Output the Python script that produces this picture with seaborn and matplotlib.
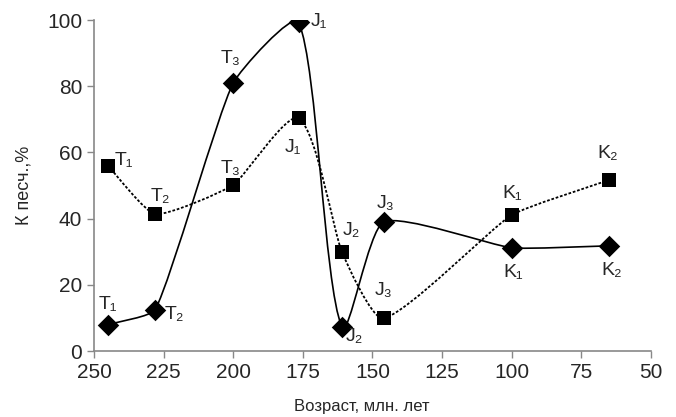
import numpy as np
import pandas as pd
import seaborn as sns
import matplotlib.pyplot as plt
from matplotlib.path import Path
from matplotlib.patches import PathPatch

# data
age = [245, 228, 200, 176.5, 161, 146, 100, 65]
period = ['T₁', 'T₂', 'T₃', 'J₁', 'J₂', 'J₃', 'K₁', 'K₂']
k_diamond = [8, 12.5, 81, 99.3, 7.3, 39, 31.2, 31.8]
k_square = [56, 41.4, 50.2, 70.3, 30, 9.9, 41.1, 51.7]

sns.set_style("ticks")
plt.rcParams['font.family'] = ['Liberation Sans Narrow', 'Liberation Sans', 'DejaVu Sans']

df = pd.DataFrame({'age': age, 'period': period, 'dia': k_diamond, 'sq': k_square})

fig = plt.figure(figsize=(6.76, 4.17), dpi=100)
ax = fig.add_axes([0.139, 0.158, 0.824, 0.794])
ax.set_xlim(250, 50)
ax.set_ylim(0, 100)


def smooth_path(x, y, t=0.15):
    # smoothed line (tangents scaled by segment length, in screen space)
    p = ax.transData.transform(np.column_stack([x, y]).astype(float))
    n = len(p)
    tang = []
    for i in range(n):
        a = p[max(i - 1, 0)]
        b = p[min(i + 1, n - 1)]
        d = b - a
        tang.append(d / np.hypot(*d))
    verts = [p[0]]
    codes = [Path.MOVETO]
    for i in range(n - 1):
        L = np.hypot(*(p[i + 1] - p[i]))
        verts += [p[i] + tang[i] * L * t, p[i + 1] - tang[i + 1] * L * t, p[i + 1]]
        codes += [Path.CURVE4] * 3
    verts = ax.transData.inverted().transform(np.array(verts))
    return Path(verts, codes)


ax.add_patch(PathPatch(smooth_path(df.age, df.dia), fill=False, color='black', lw=1.2))
ax.add_patch(PathPatch(smooth_path(df.age, df.sq), fill=False, color='black', lw=1.3,
                       linestyle=(0, (1.5, 1))))

sns.scatterplot(data=df, x='age', y='dia', marker='D', s=120, color='black', ax=ax, zorder=3, linewidth=0)
sns.scatterplot(data=df, x='age', y='sq', marker='s', s=100, color='black', ax=ax, zorder=3, linewidth=0)

# label offsets in pixels
off_dia = [(0, 20), (19, -5), (-3, 24), (20, 1), (13, -10), (2, 18), (1, -25), (2, -25)]
off_sq = [(16, 5), (5, 18), (-3, 16), (-6, -29), (10, 21), (0, 28), (0, 22), (-2, 26)]
for i, row in df.iterrows():
    dx, dy = off_dia[i]
    ax.annotate(row.period, (row.age, row.dia), xytext=(dx * 0.72, dy * 0.72),
                textcoords='offset points', ha='center', va='center', fontsize=14)
    dx, dy = off_sq[i]
    ax.annotate(row.period, (row.age, row.sq), xytext=(dx * 0.72, dy * 0.72),
                textcoords='offset points', ha='center', va='center', fontsize=14)

ax.set_xticks([250, 225, 200, 175, 150, 125, 100, 75, 50])
ax.set_yticks([0, 20, 40, 60, 80, 100])
ax.tick_params(labelsize=15, color='#888888', length=5, width=1)
for s in ['left', 'bottom']:
    ax.spines[s].set_color('#888888')
    ax.spines[s].set_linewidth(1.2)
sns.despine(ax=ax)
ax.set_xlabel('Возраст, млн. лет', fontsize=12)
ax.set_ylabel('К песч.,%', fontsize=13)
ax.xaxis.set_label_coords(0.48, -0.145)
ax.yaxis.set_label_coords(-0.11, 0.5)

fig.savefig("out.png", dpi=100)
